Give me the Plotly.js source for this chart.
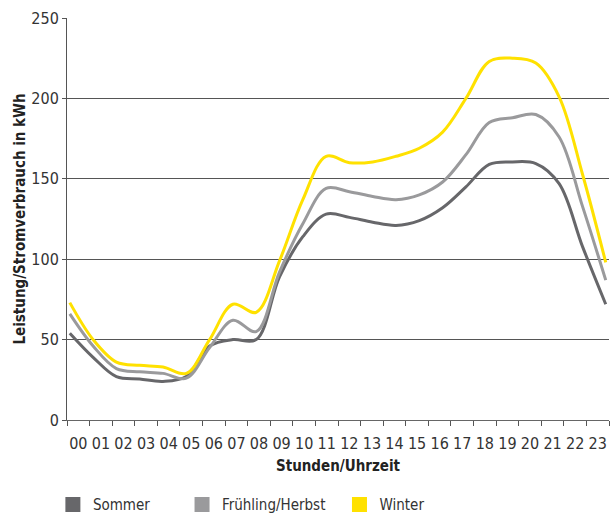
<!DOCTYPE html>
<html>
<head>
<meta charset="utf-8">
<script src="https://cdn.plot.ly/plotly-3.0.1.min.js"></script>
<style>html,body{margin:0;padding:0;background:#fff;}#chart{width:615px;height:516px;}</style>
</head>
<body>
<div id="chart"></div>
<script>
const hours = [0,1,2,3,4,5,6,7,8,9,10,11,12,13,14,15,16,17,18,19,20,21,22,23];
const hourLabels = ["00","01","02","03","04","05","06","07","08","09","10","11","12","13","14","15","16","17","18","19","20","21","22","23"];
const sommer = [54,39,27,25.5,24,27,46,50,50,89,114,128,126,123,121,124,132,145,159,160.5,159.5,147,108,72];
const fruehlingHerbst = [66,46,32,30,29,26,45,62,55,92,122,144,142,139,137,140,148,165,185,188,190,176,133,87];
const winter = [73,50,36,34,33,29,50,72,67,99,137,164,160,160.5,164,169,179,200,223,225,222,201,153,98];
const seriesNames = ["Sommer","Frühling/Herbst","Winter"];
const seriesColors = ["#67676a","#9a9a9c","#ffe100"];
const yTicks = [0,50,100,150,200,250];

const font = "'DejaVu Sans Condensed','Liberation Sans Narrow',Arial,sans-serif";
const seriesData = [sommer, fruehlingHerbst, winter];

const traces = [];
seriesData.forEach((vals, k) => {
  traces.push({
    x: hours, y: vals, type: "scatter", mode: "lines",
    line: {color: seriesColors[k], width: 3, shape: "spline", smoothing: 1},
    showlegend: false, hoverinfo: "skip", xaxis: "x", yaxis: "y"
  });
});
seriesNames.forEach((nm, k) => {
  traces.push({
    x: [null], y: [null], type: "scatter", mode: "markers", name: nm,
    marker: {symbol: "square", size: 15, color: seriesColors[k]},
    xaxis: "x2", yaxis: "y", legend: k === 0 ? "legend" : "legend" + (k + 1)
  });
});

const boundaries = [];
for (let i = 0; i <= hourLabels.length; i++) boundaries.push(i);
const labelPos = hourLabels.map((_, i) => i + 0.5);

const legendBase = {orientation: "h", xref: "container", yref: "container", yanchor: "middle", xanchor: "left", y: 0.022,
  font: {family: font, size: 15, color: "#333"}, bgcolor: "rgba(0,0,0,0)", borderwidth: 0};

const layout = {
  width: 615, height: 516,
  margin: {l: 67, r: 6, t: 18, b: 96},
  paper_bgcolor: "#fff", plot_bgcolor: "#fff",
  font: {family: font, color: "#333"},
  xaxis: {range: [-0.12, 23.14], visible: false, fixedrange: true},
  xaxis2: {
    overlaying: "x", anchor: "y", side: "bottom", range: [0, 24], automargin: false,
    tickmode: "array", tickvals: labelPos, ticktext: hourLabels, ticks: "", ticklabelstandoff: 9,
    tickfont: {family: font, size: 16, color: "#333"},
    minor: {tickmode: "array", tickvals: boundaries, ticks: "outside", ticklen: 5, tickcolor: "#555", tickwidth: 1},
    showline: true, linecolor: "#666", linewidth: 1, showgrid: false, zeroline: false,
    title: {text: "<b>Stunden/Uhrzeit</b>", font: {family: font, size: 15, color: "#222"}, standoff: 8}
  },
  yaxis: {
    range: [0, 250], tickmode: "array", tickvals: yTicks, automargin: false,
    ticks: "outside", ticklen: 4, tickcolor: "#555",
    showline: true, linecolor: "#555", linewidth: 1,
    showgrid: true, gridcolor: "#555", gridwidth: 1, zeroline: false,
    tickfont: {family: font, size: 16, color: "#333"},
    title: {text: "<b>Leistung/Stromverbrauch in kWh</b>", font: {family: font, size: 15, color: "#222"}, standoff: 2}
  },
  legend: Object.assign({}, legendBase, {x: 0.086}),
  legend2: Object.assign({}, legendBase, {x: 0.296}),
  legend3: Object.assign({}, legendBase, {x: 0.552}),
  showlegend: true
};

Plotly.newPlot("chart", traces, layout, {staticPlot: true, displayModeBar: false});
</script>
</body>
</html>
